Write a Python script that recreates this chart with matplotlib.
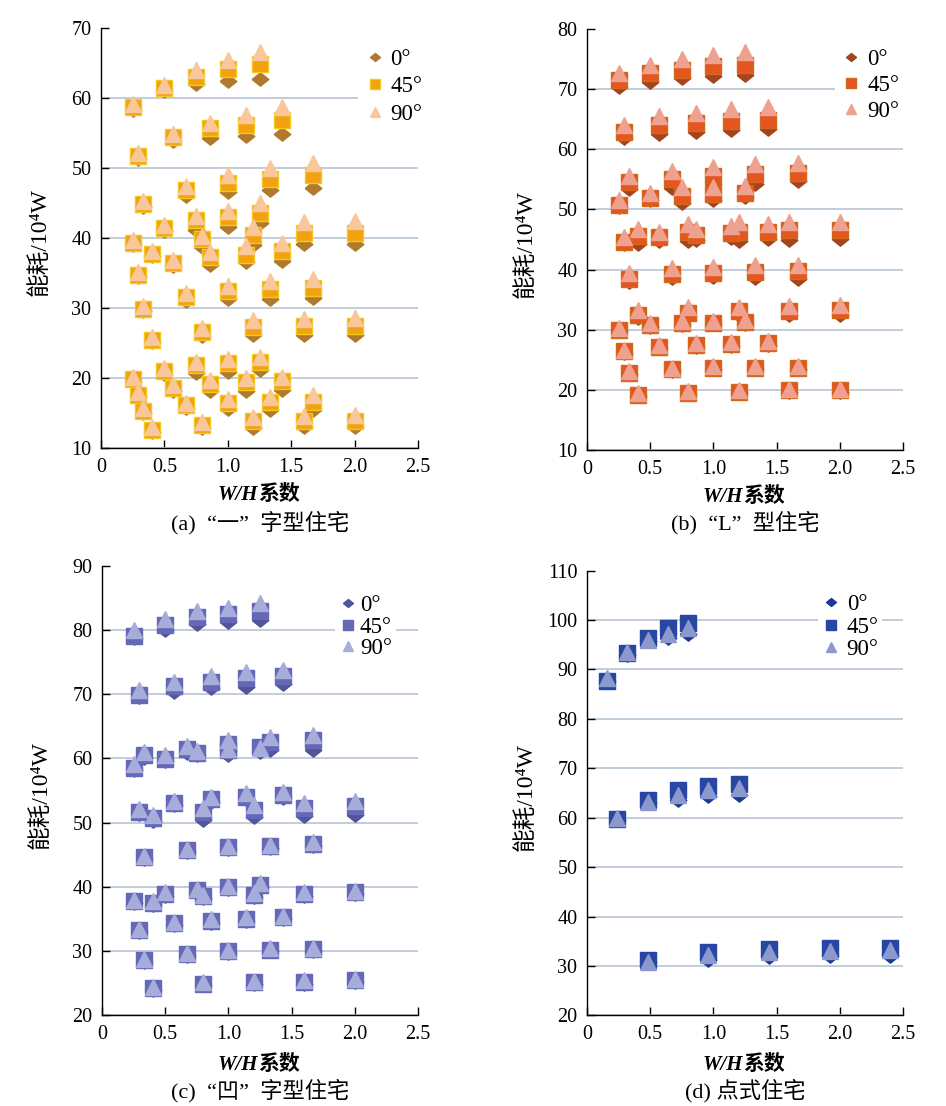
import numpy as np
import matplotlib
matplotlib.use('Agg')
from matplotlib import pyplot as plt

plt.rcParams['font.family'] = ['Liberation Serif', 'Noto Sans CJK SC', 'DejaVu Sans']

# W/H values, twelve groups of five for the first three building types
x_abc = [0.25, 0.5, 0.75, 1.0, 1.25, 0.29, 0.57, 0.86, 1.14, 1.43,
         0.33, 0.67, 1.0, 1.33, 1.67, 0.4, 0.8, 1.2, 1.6, 2.0] * 3
x_d = [0.16, 0.32, 0.48, 0.64, 0.8, 0.24, 0.48, 0.72, 0.96, 1.2,
       0.48, 0.96, 1.44, 1.92, 2.4]

# (a) 一字型
a_0 = [58.3, 61.0, 62.0, 62.4, 62.7, 51.3, 53.9, 54.3, 54.6, 54.8,
       44.5, 46.0, 46.6, 46.8, 47.1, 37.4, 38.7, 39.0, 39.2, 39.2,
       39.0, 41.0, 41.2, 41.6, 42.1, 34.4, 36.0, 36.2, 36.6, 36.7,
       29.6, 31.0, 31.3, 31.3, 31.4, 25.1, 26.0, 26.1, 26.1, 26.1,
       19.5, 20.6, 20.7, 20.9, 21.1, 17.3, 18.2, 18.1, 18.2, 18.3,
       15.0, 15.7, 15.6, 15.4, 15.5, 12.3, 12.8, 12.9, 13.0, 13.0]
a_45 = [58.7, 61.4, 63.0, 64.1, 64.8, 51.7, 54.4, 55.7, 56.1, 56.9,
        44.8, 46.9, 47.9, 48.5, 49.0, 37.7, 39.8, 40.5, 40.7, 40.7,
        39.3, 41.4, 42.6, 43.0, 43.6, 34.7, 36.4, 37.3, 37.6, 38.1,
        29.9, 31.6, 32.5, 32.7, 32.8, 25.4, 26.6, 27.3, 27.4, 27.5,
        19.8, 21.0, 21.8, 22.2, 22.3, 17.6, 18.6, 19.2, 19.5, 19.6,
        15.3, 16.1, 16.5, 16.6, 16.6, 12.6, 13.3, 13.8, 13.9, 13.9]
a_90 = [59.2, 61.9, 64.0, 65.5, 66.6, 52.2, 54.9, 56.4, 57.6, 58.7,
        45.3, 47.4, 49.0, 50.0, 50.7, 38.1, 40.3, 41.6, 42.3, 42.4,
        39.7, 41.8, 43.1, 43.9, 45.0, 35.1, 36.8, 38.0, 38.8, 39.3,
        30.3, 32.1, 33.2, 33.9, 34.2, 25.8, 27.1, 28.3, 28.4, 28.6,
        20.2, 21.4, 22.3, 22.7, 23.0, 18.0, 19.0, 19.7, 20.0, 20.2,
        15.7, 16.5, 17.0, 17.3, 17.6, 13.0, 13.7, 14.5, 14.6, 14.7]

# (b) L型
b_0 = [70.4, 71.2, 71.9, 72.1, 72.4, 61.9, 62.5, 62.8, 63.2, 63.3,
       53.4, 53.6, 54.3, 54.3, 54.7, 44.3, 44.8, 44.8, 45.0, 45.1,
       50.4, 51.5, 51.0, 51.5, 52.0, 44.2, 44.8, 45.0, 45.2, 45.1,
       38.0, 38.6, 38.7, 38.6, 38.5, 32.0, 32.3, 32.5, 32.4, 32.5,
       29.8, 30.5, 30.8, 30.9, 31.0, 26.2, 27.0, 27.2, 27.3, 27.5,
       22.6, 23.2, 23.4, 23.5, 23.5, 19.0, 19.3, 19.5, 19.7, 19.7]
b_45 = [71.5, 72.6, 73.2, 73.8, 74.0, 62.8, 64.0, 64.3, 64.7, 64.8,
        54.5, 55.1, 55.6, 55.9, 56.1, 45.6, 46.2, 46.3, 46.5, 46.5,
        50.8, 51.9, 52.3, 52.6, 52.8, 44.6, 45.4, 45.8, 46.1, 46.3,
        38.5, 39.2, 39.5, 39.6, 39.7, 32.4, 32.8, 33.1, 33.1, 33.3,
        30.0, 30.8, 31.1, 31.2, 31.3, 26.4, 27.2, 27.5, 27.6, 27.8,
        22.8, 23.4, 23.6, 23.7, 23.7, 19.2, 19.5, 19.7, 19.9, 19.9]
b_90 = [72.7, 74.0, 75.0, 75.7, 76.1, 64.0, 65.5, 66.1, 66.7, 67.1,
        55.6, 56.4, 57.0, 57.5, 57.8, 46.8, 47.6, 47.9, 47.9, 47.9,
        51.5, 52.7, 53.7, 53.7, 53.9, 45.4, 46.2, 46.8, 47.3, 47.6,
        39.5, 40.2, 40.4, 40.7, 40.8, 33.3, 33.8, 33.8, 34.0, 34.1,
        30.3, 31.1, 31.4, 31.5, 31.6, 26.7, 27.5, 27.8, 27.9, 28.1,
        23.1, 23.7, 23.9, 24.0, 24.0, 19.5, 19.8, 20.0, 20.2, 20.2]

# (c) 凹字型
c_0 = [78.8, 80.0, 80.9, 81.3, 81.6, 69.5, 70.4, 71.0, 71.2, 71.6,
       60.1, 60.8, 61.1, 61.3, 61.3, 50.2, 50.4, 50.8, 51.0, 51.2,
       58.2, 59.6, 60.5, 60.5, 61.0, 51.4, 52.7, 53.2, 53.6, 53.9,
       44.3, 45.4, 45.9, 46.0, 46.4, 37.2, 38.2, 38.4, 38.6, 38.8,
       37.4, 38.6, 39.2, 39.6, 40.0, 32.9, 34.0, 34.4, 34.7, 35.0,
       28.3, 29.2, 29.6, 29.9, 30.0, 23.9, 24.6, 24.8, 24.9, 25.1]
c_45 = [79.1, 80.8, 82.0, 82.5, 82.9, 69.9, 71.3, 71.9, 72.5, 72.8,
        60.5, 61.4, 62.3, 62.6, 62.9, 50.7, 51.7, 52.0, 52.2, 52.5,
        58.5, 59.9, 60.9, 61.3, 61.8, 51.7, 53.0, 53.6, 54.0, 54.3,
        44.6, 45.7, 46.2, 46.3, 46.7, 37.5, 38.5, 38.7, 38.9, 39.1,
        37.7, 38.9, 39.5, 39.9, 40.3, 33.2, 34.3, 34.7, 35.0, 35.3,
        28.6, 29.5, 29.9, 30.2, 30.3, 24.2, 24.9, 25.1, 25.2, 25.4]
c_90 = [80.0, 81.7, 82.9, 83.4, 84.2, 70.7, 71.9, 72.8, 73.4, 73.8,
        61.0, 62.0, 62.9, 63.4, 63.6, 51.2, 52.2, 52.7, 53.0, 53.3,
        59.2, 60.5, 61.1, 61.5, 61.6, 52.1, 53.3, 54.0, 54.6, 54.8,
        44.8, 45.9, 46.4, 46.5, 46.9, 37.7, 38.7, 39.0, 39.1, 39.3,
        37.9, 39.1, 39.7, 40.1, 40.5, 33.4, 34.5, 34.9, 35.2, 35.5,
        28.8, 29.7, 30.1, 30.4, 30.5, 24.4, 25.1, 25.3, 25.4, 25.6]

# (d) 点式
d_0 = [87.6, 93.0, 95.8, 96.3, 97.2, 59.6, 62.9, 63.6, 64.3, 64.6,
       30.8, 31.2, 31.9, 32.0, 32.0]
d_45 = [87.7, 93.3, 96.3, 98.3, 99.3, 59.7, 63.6, 65.7, 66.4, 66.8,
        31.2, 32.9, 33.4, 33.6, 33.7]
d_90 = [88.2, 93.6, 96.0, 97.2, 98.3, 59.9, 63.2, 64.6, 65.6, 66.0,
        30.9, 32.2, 32.9, 33.1, 33.2]

labels = ['0°', '45°', '90°']

diamond = [(-1, 0), (0, 0.8), (1, 0), (0, -0.8), (-1, 0)]


def draw_panel(ax, x, y0, y45, y90, colors, sq_edge, ylim, yticks,
               leg_anchor, leg_spacing, leg_pad, leg_border):
    ax.plot(x, y0, linestyle='none', marker=diamond, ms=12, color=colors[0],
            mec=colors[0], label=labels[0], zorder=3)
    ax.plot(x, y45, linestyle='none', marker='s', ms=12, color=colors[1],
            mec=sq_edge, mew=1.0, label=labels[1], zorder=4)
    ax.plot(x, y90, linestyle='none', marker='^', ms=11.5, color=colors[2],
            mec=colors[2], label=labels[2], zorder=5)

    ax.set_xlim(0, 2.5)
    ax.set_ylim(*ylim)
    ax.set_xticks(np.arange(0, 2.51, 0.5))
    ax.set_xticklabels(['0', '0.5', '1.0', '1.5', '2.0', '2.5'])
    ax.set_yticks(yticks)
    ax.tick_params(direction='in', length=6, width=1, labelsize=14.5, pad=7)
    for side in ['top', 'right']:
        ax.spines[side].set_visible(False)
    for side in ['left', 'bottom']:
        ax.spines[side].set_linewidth(1.0)
    ax.yaxis.grid(True, color='#BCCAD8', linewidth=1.3)
    ax.set_axisbelow(True)
    ax.yaxis.get_gridlines()[-1].set_visible(False)

    ax.text(0.495, -0.112, 'W/H', transform=ax.transAxes, ha='right', va='center',
            fontsize=15, fontstyle='italic', fontweight='bold')
    ax.text(0.495, -0.112, '系数', transform=ax.transAxes, ha='left', va='center',
            fontsize=15, fontweight='bold')
    ax.set_ylabel('能耗/10⁴W', fontsize=17)
    ax.yaxis.set_label_coords(-0.16, 0.49)

    leg = ax.legend(loc='upper left', bbox_to_anchor=leg_anchor, fontsize=16.5,
                    markerscale=0.6, handlelength=0.8, handletextpad=leg_pad,
                    labelspacing=leg_spacing, borderpad=leg_border, frameon=True,
                    fancybox=False, framealpha=1.0)
    leg.get_frame().set_edgecolor('none')
    leg.get_frame().set_facecolor('white')


fig = plt.figure(figsize=(9.46, 11.06), dpi=100)

ax_a = fig.add_axes([0.1068, 0.5949, 0.3351, 0.3797])
draw_panel(ax_a, x_abc, a_0, a_45, a_90, ['#B07A2C', '#F2A20E', '#F9C79A'], '#F3C91E',
           (10, 70), range(10, 71, 10), (0.776, 0.995), 0.3, 0.3, 0.3)

ax_b = fig.add_axes([0.6205, 0.5931, 0.3340, 0.3807])
draw_panel(ax_b, x_abc, b_0, b_45, b_90, ['#A4441F', '#E5561F', '#EFA190'], '#D0691C',
           (10, 80), range(10, 81, 10), (0.75, 0.995), 0.2, 0.3, 0.3)

ax_c = fig.add_axes([0.1078, 0.0823, 0.3340, 0.4060])
draw_panel(ax_c, x_abc, c_0, c_45, c_90, ['#52549C', '#6468B6', '#A7ADDA'], '#6468B6',
           (20, 90), range(20, 91, 10), (0.70, 0.97), 0.0, 0.1, 0.2)

ax_d = fig.add_axes([0.6205, 0.0819, 0.3340, 0.4022])
draw_panel(ax_d, x_d, d_0, d_45, d_90, ['#1C3990', '#2747A3', '#8B99CF'], '#2747A3',
           (20, 110), range(20, 111, 10), (0.695, 0.98), 0.05, 0.3, 0.15)

fig.text(260 / 946, 1 - 523 / 1106, '(a)  “一”  字型住宅', ha='center', va='center', fontsize=16)
fig.text(745 / 946, 1 - 523 / 1106, '(b)  “L”  型住宅', ha='center', va='center', fontsize=16)
fig.text(260 / 946, 1 - 1091 / 1106, '(c)  “凹”  字型住宅', ha='center', va='center', fontsize=16)
fig.text(745 / 946, 1 - 1091 / 1106, '(d) 点式住宅', ha='center', va='center', fontsize=16)

fig.savefig('out.png', dpi=100, facecolor='white')
